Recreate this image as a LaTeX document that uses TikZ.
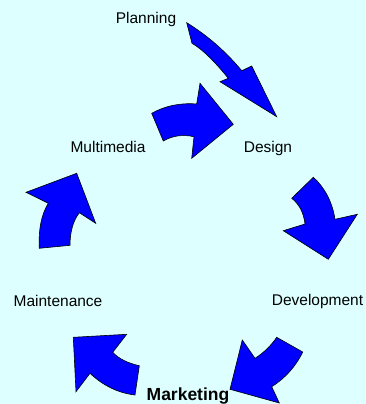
\documentclass[tikz,border=0pt]{standalone}
\usepackage{fontspec}
\setmainfont{Liberation Sans}
\definecolor{bgcyan}{RGB}{221,255,255}
\definecolor{arrowblue}{RGB}{0,0,255}
\begin{document}
\begin{tikzpicture}[x=1pt,y=-1pt,
  stagearrow/.style={fill=arrowblue,draw=black,line width=0.6pt,line join=miter},
  stagelabel/.style={inner sep=0pt,anchor=base,font=\fontsize{15.5}{18}\selectfont},
  keylabel/.style={inner sep=0pt,anchor=base,font=\fontsize{17.5}{20}\selectfont\bfseries}]
\fill[bgcyan] (0,0) rectangle (366,404);
\useasboundingbox (0,0) rectangle (366,404);

% Planning -> Design
\draw[stagearrow] (186.7,22.7) .. controls (207.6,35.6) and (225.9,51.6) .. (241.7,70.7)
  -- (251.7,66) -- (276.7,116.7) -- (220,81.7) -- (228.3,78.3)
  .. controls (214.1,60.8) and (202,49.1) .. (192,43.3) -- cycle;

% Multimedia -> Design
\draw[stagearrow] (151.7,113.3) .. controls (165.2,105.8) and (180.2,102.7) .. (196.7,104)
  -- (200,83.3) -- (233.3,124.3) -- (191.7,158.3) -- (194,136.7)
  .. controls (182.7,134.2) and (172.4,135.7) .. (163.3,141) -- cycle;

% Design -> Development
\draw[stagearrow] (291.7,198.3) -- (313.3,177.3)
  .. controls (324.4,187.1) and (332.3,201.8) .. (335,219.3)
  -- (357.3,214.3) -- (328.3,259.3) -- (283.3,230.7) -- (305,224)
  .. controls (303.7,212.7) and (299.2,204.1) .. cycle;

% Development -> Marketing
\draw[stagearrow] (276.7,337.3) -- (302.7,352)
  .. controls (295.6,366.7) and (285.2,378.2) .. (271.7,386.7)
  -- (279.3,403) -- (230,389.3) -- (242.3,340) -- (255,358.3)
  .. controls (263.7,352.8) and (270.9,345.8) .. cycle;

% Marketing -> Maintenance
\draw[stagearrow] (139.3,365.7) -- (135,395)
  .. controls (118.3,393) and (103.3,385.8) .. (90,373.3)
  -- (76,391.7) -- (73.3,337.3) -- (126.7,334.3) -- (112.7,352.3)
  .. controls (118.9,358.8) and (127.8,363.2) .. cycle;

% Maintenance -> Multimedia
\draw[stagearrow] (39.3,248.3) -- (70,245.3)
  .. controls (70,231.8) and (73.1,220.9) .. (79.3,212.7)
  -- (95.7,223.3) -- (76.7,173.3) -- (26,192.3) -- (48.3,203.3)
  .. controls (41.4,214.4) and (38.4,229.4) .. cycle;

% Stage labels
\node[stagelabel] (planning) at (146,23.5) {Planning};
\node[stagelabel] (multimedia) at (108,152.3) {Multimedia};
\node[stagelabel] (design) at (268,152.3) {Design};
\node[stagelabel] (maintenance) at (58,306) {Maintenance};
\node[stagelabel] (development) at (317.5,305) {Development};
\node[keylabel] (marketing) at (188,400) {Marketing};
\end{tikzpicture}
\end{document}
